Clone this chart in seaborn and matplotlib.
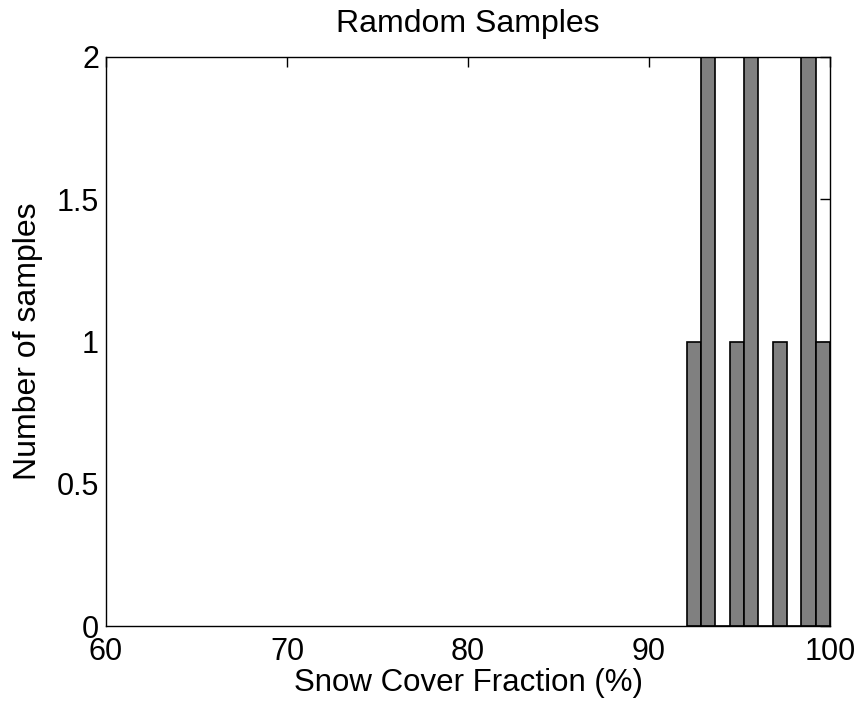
import matplotlib
matplotlib.use('Agg')
import matplotlib.pyplot as plt
import numpy as np
import pandas as pd
import seaborn as sns

# snow cover fraction of the random samples (%)
snow_cover = [92.08, 92.9, 93.2, 94.8, 95.6, 95.9, 97.3, 98.8, 99.0, 100.0]
n_bins = 10

x_ticks = [60, 70, 80, 90, 100]
y_ticks = [0, 0.5, 1, 1.5, 2]

sns.set_style('white')
plt.rcParams['font.family'] = ['Liberation Sans', 'DejaVu Sans']
plt.rcParams['text.color'] = 'black'
plt.rcParams['axes.labelcolor'] = 'black'

df = pd.DataFrame({'snow_cover': snow_cover})

fig = plt.figure(figsize=(8.58, 7.01), dpi=100)
ax = fig.add_axes([106 / 858, 1 - 626 / 701, 724 / 858, 569 / 701])

sns.histplot(
    data=df,
    x='snow_cover',
    bins=n_bins,
    color='#808080',
    edgecolor='black',
    linewidth=1.2,
    alpha=1,
    ax=ax
)

ax.set_xlim(60, 100)
ax.set_ylim(0, 2)
ax.set_xticks(x_ticks)
ax.set_xticklabels([str(t) for t in x_ticks])
ax.set_yticks(y_ticks)
ax.set_yticklabels(['0', '0.5', '1', '1.5', '2'])
ax.tick_params(direction='in', top=True, right=True, length=7, width=1,
               labelsize=22, colors='black')
ax.tick_params(axis='x', pad=8)
ax.tick_params(axis='y', pad=5)
for sp in ax.spines.values():
    sp.set_visible(True)
    sp.set_color('black')
    sp.set_linewidth(1)

ax.set_xlabel('Snow Cover Fraction (%)', fontsize=22.5, labelpad=1, color='black')
ax.set_ylabel('Number of samples', fontsize=23, labelpad=10, color='black')
ax.set_title('Ramdom Samples', fontsize=23, pad=18, color='black')

fig.savefig('out.png', dpi=100)
